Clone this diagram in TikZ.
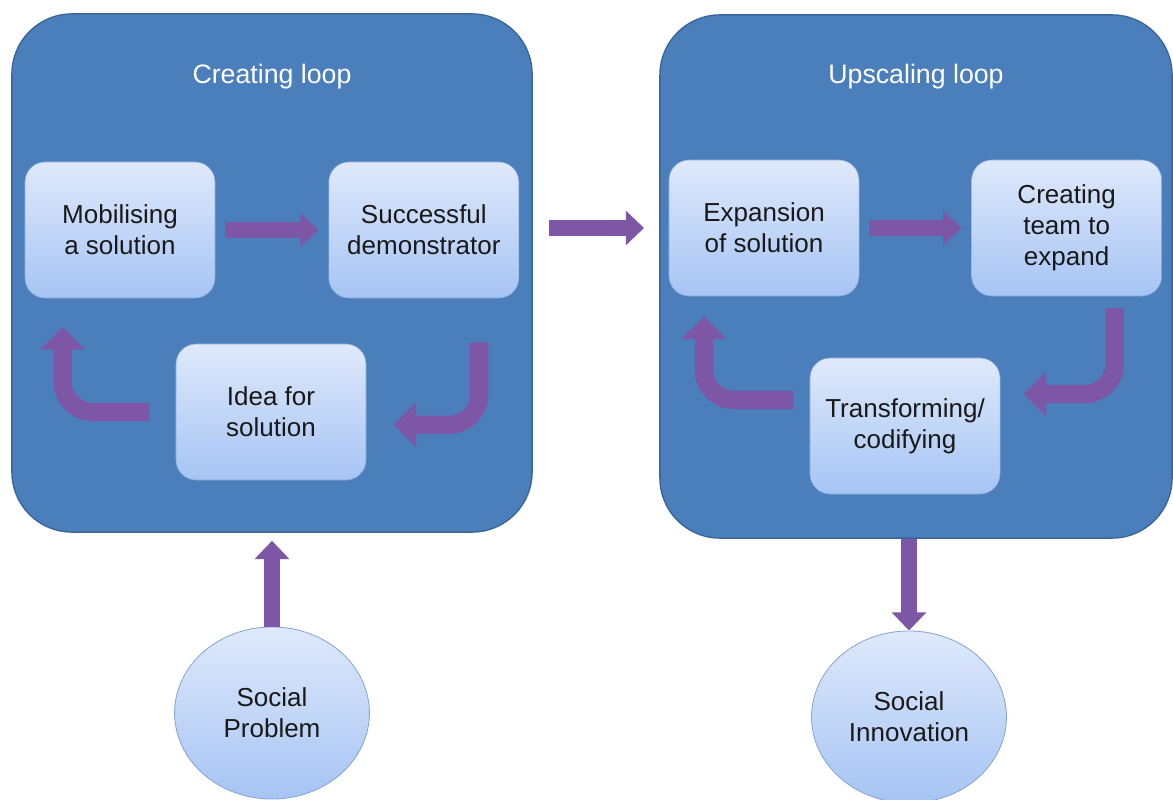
\documentclass[tikz,border=0pt]{standalone}
\usepackage{fontspec}
\setmainfont{Liberation Sans}
\usetikzlibrary{positioning,shapes.geometric,arrows.meta}
\definecolor{loopblue}{HTML}{4B7FBC}
\definecolor{loopedge}{HTML}{3A6699}
\definecolor{boxtop}{HTML}{DFE9FB}
\definecolor{boxbot}{HTML}{A6C4F4}
\definecolor{boxedge}{HTML}{86A6D6}
\definecolor{arrowpurple}{HTML}{7D57A5}
\tikzset{
  loopbox/.style={draw=loopedge, line width=1pt, fill=loopblue, rounded corners=1.5cm},
  looptitle/.style={text=white, font=\fontsize{19}{22}\selectfont},
  stepbox/.style={top color=boxtop, bottom color=boxbot, draw=boxedge, line width=0.4pt,
    rounded corners=0.5cm, minimum width=4.75cm, minimum height=3.4cm, align=center,
    text=black!90, font=\fontsize{18.5}{22}\selectfont},
  endblob/.style={ellipse, top color=boxtop, bottom color=boxbot, draw=boxedge, line width=0.6pt,
    minimum width=4.87cm, minimum height=4.3cm, inner sep=0pt, align=center,
    text=black!90, font=\fontsize{18.5}{22}\selectfont},
  fatarrow/.style={draw=arrowpurple, line width=11pt, -{Triangle[width=24pt,length=13pt]}},
  bendarrow/.style={draw=arrowpurple, line width=13pt, rounded corners=0.75cm,
    -{Triangle[width=31pt,length=16pt]}}
}
\begin{document}
\begin{tikzpicture}[x=0.025cm,y=-0.025cm]
\useasboundingbox (0,0) rectangle (1173,800);
\node[loopbox, minimum width=13cm, minimum height=12.95cm] (cloop) at (272,273) {};
\node[loopbox, minimum width=12.8cm, minimum height=13.075cm] (uloop) at (916,276.5) {};
\node[looptitle] (ctitle) at ([yshift=-1.58cm]cloop.north) {Creating loop};
\node[looptitle] (utitle) at ([yshift=-1.55cm]uloop.north) {Upscaling loop};

\node[stepbox] (mob) at (120,230) {Mobilising\\a solution};
\node[stepbox, right=2.83cm of mob] (succ) {Successful\\demonstrator};
\node[stepbox] (idea) at (271,412) {Idea for\\solution};

\node[stepbox] (exp) at (764,228) {Expansion\\of solution};
\node[stepbox, right=2.8cm of exp] (creat) {Creating\\team to\\expand};
\node[stepbox] (trans) at (905,426) {Transforming/\\codifying};

\node[endblob] (prob) at (272,713) {Social\\Problem};
\node[endblob] (innov) at (909,717) {Social\\Innovation};

\draw[fatarrow, shorten <=0.25cm, shorten >=0.25cm] (mob) -- (succ);
\draw[fatarrow, shorten <=0.25cm, shorten >=0.25cm] (exp.east) -- (exp.east -| creat.west);
\draw[fatarrow, shorten <=0.4cm, shorten >=0.38cm] (cloop.east |- exp.east) -- (uloop.west |- exp.east);
\draw[fatarrow, shorten >=0.2cm] (prob.north) -- (prob |- cloop.south);
\draw[fatarrow] (innov |- uloop.south) -- (innov.north);

\draw[bendarrow] ([shift={(-1cm,-1.1cm)}]succ.south east) |- ([shift={(0.68cm,-0.32cm)}]idea.east);
\draw[bendarrow] ([xshift=-0.65cm]idea.west) -| ([shift={(0.95cm,-0.72cm)}]mob.south west);
\draw[bendarrow] ([shift={(-1.18cm,-0.3cm)}]creat.south east) |- ([shift={(0.58cm,0.8cm)}]trans.east);
\draw[bendarrow] ([shift={(-0.4cm,0.65cm)}]trans.west) -| ([shift={(0.88cm,-0.5cm)}]exp.south west);
\end{tikzpicture}
\end{document}
